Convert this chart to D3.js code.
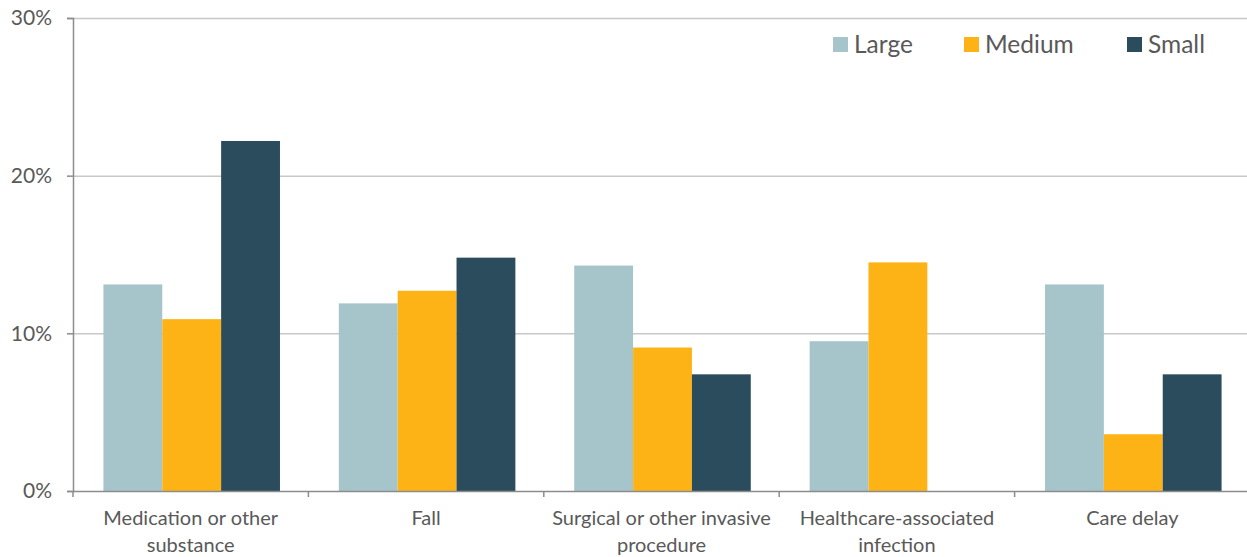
<!DOCTYPE html>
<html>
<head>
<meta charset="utf-8">
<script src="https://cdn.jsdelivr.net/npm/d3@7"></script>
<style>
  body { margin: 0; background: #fff; }
  svg { display: block; }
  text { font-family: Lato, "Open Sans", sans-serif; fill: #595959; }
</style>
</head>
<body>
<svg id="chart" width="1247" height="557"></svg>
<script>
const categories = [
  ["Medication or other", "substance"],
  ["Fall"],
  ["Surgical or other invasive", "procedure"],
  ["Healthcare-associated", "infection"],
  ["Care delay"]
];
const seriesNames = ["Large", "Medium", "Small"];
const large  = [13.1, 11.9, 14.3, 9.5, 13.1];
const medium = [10.9, 12.7, 9.1, 14.5, 3.6];
const small  = [22.2, 14.8, 7.4, 0, 7.4];
const yTicks = [0, 10, 20, 30];
const colors = ["#a5c5cb", "#fdb316", "#2b4c5c"];

const series = [large, medium, small];
const svg = d3.select("#chart");
const mLeft = 73, mRight = 1250, mTop = 18, mBottom = 491;

const x = d3.scaleBand().domain(d3.range(categories.length)).range([mLeft, mRight]).paddingInner(0).paddingOuter(0);
const xs = d3.scaleBand().domain(d3.range(seriesNames.length)).range([0, x.bandwidth()]).paddingInner(0).paddingOuter(0.5);
const y = d3.scaleLinear().domain([0, 30]).range([mBottom, mTop]);

// gridlines
svg.append("g").selectAll("line").data(yTicks.filter(d => d > 0)).join("line")
  .attr("x1", mLeft).attr("x2", mRight)
  .attr("y1", d => y(d) + 0.5).attr("y2", d => y(d) + 0.5)
  .attr("stroke", "#c8c8c8").attr("stroke-width", 1.5);

// bars
const groups = svg.append("g").selectAll("g").data(categories).join("g")
  .attr("transform", (d, i) => `translate(${x(i) + 1},0)`);
groups.selectAll("rect").data((d, i) => series.map((s, j) => ({ j, v: s[i] }))).join("rect")
  .attr("x", d => xs(d.j))
  .attr("width", xs.bandwidth())
  .attr("y", d => y(d.v))
  .attr("height", d => y(0) - y(d.v))
  .attr("fill", d => colors[d.j]);

// y axis
const yAxis = svg.append("g").attr("transform", `translate(${mLeft},0)`)
  .call(d3.axisLeft(y).tickValues(yTicks).tickFormat(d => d + "%").tickSize(6).tickPadding(15));
yAxis.select(".domain").attr("stroke", "#8c8c8c").attr("stroke-width", 1.5);
yAxis.selectAll(".tick line").attr("stroke", "#8c8c8c").attr("stroke-width", 1.5);
yAxis.selectAll(".tick text").attr("font-size", 21).attr("fill", "#595959").style("font-family", "Lato, sans-serif");

// x axis
const xAxisG = svg.append("g").attr("transform", `translate(0,${mBottom})`);
xAxisG.append("line").attr("x1", mLeft).attr("x2", mRight).attr("y1", 0.5).attr("y2", 0.5)
  .attr("stroke", "#8c8c8c").attr("stroke-width", 1.5);
xAxisG.selectAll("line.tk").data(d3.range(categories.length + 1)).join("line").attr("class", "tk")
  .attr("x1", i => mLeft + i * x.step()).attr("x2", i => mLeft + i * x.step())
  .attr("y1", 0).attr("y2", 6).attr("stroke", "#8c8c8c").attr("stroke-width", 1.5);
const xl = xAxisG.selectAll("text").data(categories).join("text")
  .attr("text-anchor", "middle")
  .attr("font-size", 20)
  .attr("transform", (d, i) => `translate(${x(i) + x.bandwidth() / 2},0)`);
xl.selectAll("tspan").data(d => d).join("tspan")
  .attr("x", 0).attr("y", (d, k) => 34 + k * 27).text(d => d);

// legend
const legendX = [833, 964, 1127];
const lg = svg.append("g").selectAll("g").data(seriesNames).join("g")
  .attr("transform", (d, i) => `translate(${legendX[i]},37)`);
lg.append("rect").attr("width", 15).attr("height", 15).attr("fill", (d, i) => colors[i]);
lg.append("text").attr("x", 21).attr("y", 15.5).attr("font-size", 24.5).text(d => d);
</script>
</body>
</html>
